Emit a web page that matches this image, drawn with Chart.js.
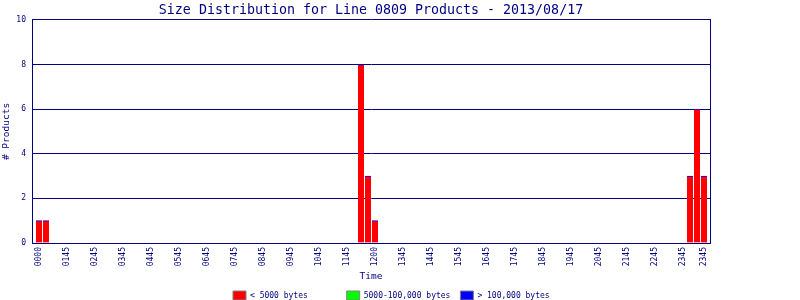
<!DOCTYPE html>
<html>
<head>
<meta charset="utf-8">
<script src="https://cdn.jsdelivr.net/npm/chart.js@4/dist/chart.umd.min.js"></script>
<style>
  html, body { margin: 0; padding: 0; background: #ffffff; }
  #wrap { width: 800px; height: 300px; }
</style>
</head>
<body>
<div id="wrap"><canvas id="c" width="800" height="300"></canvas></div>
<script>
// ---- data (96 time slots) ----
const smallValues = [
  1,1,0,0,0,0,0,0,0,0,0,0,0,0,0,0,
  0,0,0,0,0,0,0,0,0,0,0,0,0,0,0,0,
  0,0,0,0,0,0,0,0,0,0,0,0,0,0,8,3,
  1,0,0,0,0,0,0,0,0,0,0,0,0,0,0,0,
  0,0,0,0,0,0,0,0,0,0,0,0,0,0,0,0,
  0,0,0,0,0,0,0,0,0,0,0,0,0,3,6,3
];
const mediumValues = [
  0,0,0,0,0,0,0,0,0,0,0,0,0,0,0,0,
  0,0,0,0,0,0,0,0,0,0,0,0,0,0,0,0,
  0,0,0,0,0,0,0,0,0,0,0,0,0,0,0,0,
  0,0,0,0,0,0,0,0,0,0,0,0,0,0,0,0,
  0,0,0,0,0,0,0,0,0,0,0,0,0,0,0,0,
  0,0,0,0,0,0,0,0,0,0,0,0,0,0,0,0
];
const largeValues = [
  0,0,0,0,0,0,0,0,0,0,0,0,0,0,0,0,
  0,0,0,0,0,0,0,0,0,0,0,0,0,0,0,0,
  0,0,0,0,0,0,0,0,0,0,0,0,0,0,0,0,
  0,0,0,0,0,0,0,0,0,0,0,0,0,0,0,0,
  0,0,0,0,0,0,0,0,0,0,0,0,0,0,0,0,
  0,0,0,0,0,0,0,0,0,0,0,0,0,0,0,0
];
const seriesNames = ['< 5000 bytes', '5000-100,000 bytes', '> 100,000 bytes'];
const tickSlots = [0,4,8,12,16,20,24,28,32,36,40,44,48,52,56,60,64,68,72,76,80,84,88,92,95];
const tickLabels = ['0000','0145','0245','0345','0445','0545','0645','0745','0845','0945','1045','1145',
                    '1200','1345','1445','1545','1645','1745','1845','1945','2045','2145','2245','2345','2345'];
const yTicks = [0,2,4,6,8,10];

const NAVY = '#000080';
const FONT = "'DejaVu Sans Mono', 'Liberation Mono', monospace";

// zero-count slots are left empty (no bar drawn)
const toPoints = arr => arr.map((v, i) => ({x: i, y: v > 0 ? v : null}));
const padLabel = s => s.padEnd(18, ' ');

const legendShift = {
  id: 'legendShift',
  afterLayout(chart) {
    const lg = chart.legend;
    if (!lg || !lg.lineWidths) return;
    const pad = lg.options.labels.padding;
    const curStart = (lg.left + pad + lg.right - lg.lineWidths[0]) / 2;
    const dx = 233 - curStart;
    lg.left += dx; lg.right += dx;
  }
};

new Chart(document.getElementById('c'), {
  type: 'bar',
  data: {
    datasets: [
      { label: padLabel(seriesNames[0]), data: toPoints(smallValues), backgroundColor: '#ff0000',
        borderColor: '#0000ff',
        borderWidth: {top: 1, left: 0, right: 0, bottom: 0},
        borderSkipped: 'start' },
      { label: padLabel(seriesNames[1]), data: toPoints(mediumValues), backgroundColor: '#00ff00', borderWidth: 0 },
      { label: padLabel(seriesNames[2]), data: toPoints(largeValues), backgroundColor: '#0000ff', borderWidth: 0 }
    ]
  },
  plugins: [legendShift],
  options: {
    responsive: false,
    animation: false,
    devicePixelRatio: 1,
    layout: { padding: { left: 0, right: 58, top: 0, bottom: -10 } },
    datasets: { bar: { barThickness: 6 } },
    plugins: {
      tooltip: { enabled: false },
      title: {
        display: true,
        text: 'Size Distribution for Line 0809 Products - 2013/08/17',
        color: NAVY,
        font: { family: FONT, size: 13.3, weight: 'normal' },
        padding: { top: 3, bottom: 1 }
      },
      legend: {
        display: true,
        position: 'bottom',
        labels: {
          color: NAVY,
          font: { family: FONT, size: 8 },
          boxWidth: 13,
          boxHeight: 9,
          padding: 10,
          generateLabels(chart) {
            const colors = ['#ff0000', '#00ff00', '#0000ff'];
            return chart.data.datasets.map((ds, i) => ({
              text: ds.label,
              fillStyle: colors[i],
              strokeStyle: '#808080',
              lineWidth: 1,
              hidden: false,
              datasetIndex: i,
              fontColor: NAVY
            }));
          }
        }
      }
    },
    scales: {
      x: {
        type: 'linear',
        stacked: true,
        min: -1,
        max: 95.857142857,
        offset: false,
        grid: { display: false, drawTicks: false },
        border: { display: true, color: NAVY, width: 1 },
        afterBuildTicks(scale) { scale.ticks = tickSlots.map(v => ({ value: v })); },
        afterFit(scale) { scale.height = 38; },
        ticks: {
          autoSkip: false,
          minRotation: 90,
          maxRotation: 90,
          padding: 4,
          color: NAVY,
          font: { family: FONT, size: 8 },
          callback: (value) => {
            const k = tickSlots.indexOf(value);
            return k >= 0 ? tickLabels[k] : '';
          }
        },
        title: {
          display: true,
          text: 'Time',
          color: NAVY,
          font: { family: FONT, size: 9.5 },
          padding: { top: 0, bottom: -1 }
        }
      },
      y: {
        stacked: true,
        min: 0,
        max: 10,
        afterBuildTicks(scale) { scale.ticks = yTicks.map(v => ({ value: v })); },
        afterFit(scale) { scale.width = 32; },
        grid: { color: NAVY, lineWidth: 1, drawTicks: false },
        border: { display: true, color: NAVY, width: 1 },
        ticks: {
          padding: 6,
          color: NAVY,
          font: { family: FONT, size: 8 }
        },
        title: {
          display: true,
          text: '# Products',
          color: NAVY,
          font: { family: FONT, size: 9.5 },
          padding: { top: 1, bottom: 0 }
        }
      },
      y2: {
        type: 'linear',
        position: 'right',
        display: true,
        min: 0,
        max: 10,
        grid: { display: false, drawTicks: false },
        border: { display: true, color: NAVY, width: 1 },
        ticks: { display: false },
        afterFit(scale) { scale.width = 32; }
      }
    }
  }
});
</script>
</body>
</html>
